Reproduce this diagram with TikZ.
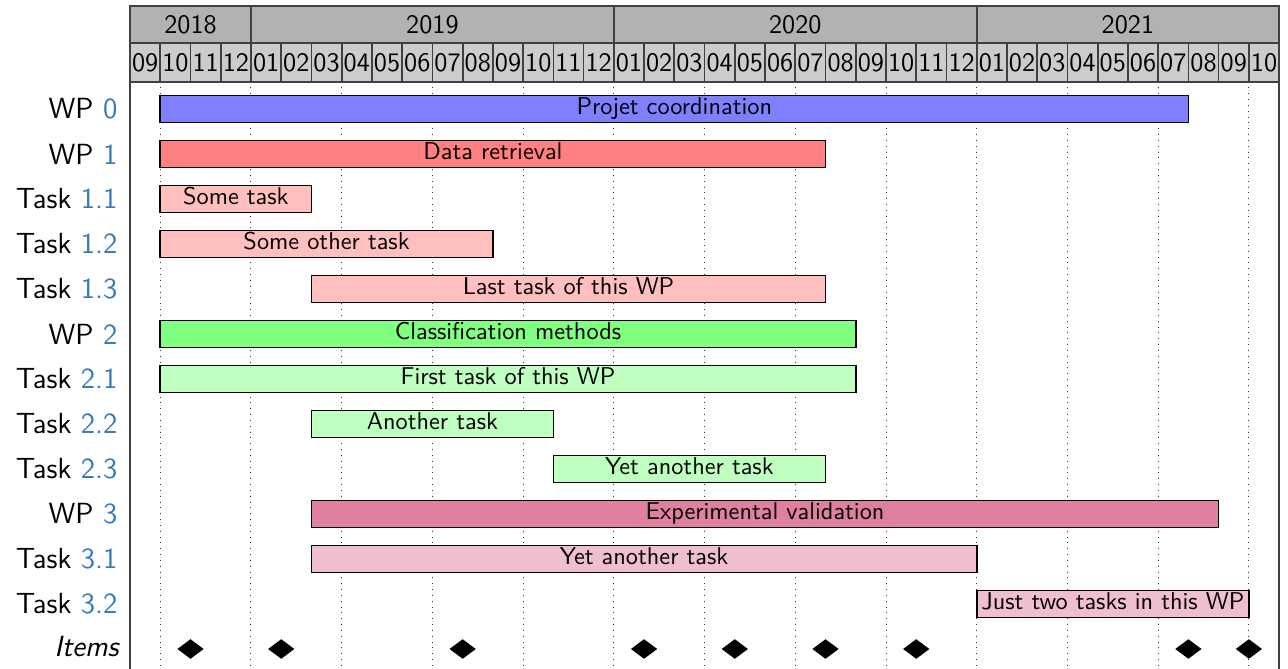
\documentclass[tikz,border=0pt]{standalone}
\usepackage{xcolor}
\usepackage{tikz}
\definecolor{wpnum}{RGB}{52,122,190}

\begin{document}
\begin{tikzpicture}[x=12.444pt,y=-18.519pt,font=\sffamily,
  cellline/.style={draw=black!75,line width=0.7pt},
  yearcell/.style={cellline,fill=black!30},
  monthcell/.style={cellline,fill=black!20},
  headtext/.style={inner sep=0pt,font=\sffamily\fontsize{11}{12}\selectfont},
  gridline/.style={black!80,dotted,line width=0.4pt},
  barbox/.style={draw=black,line width=0.7pt},
  bartext/.style={inner sep=0pt,text height=1.6ex,text depth=.5ex},
  rowlabel/.style={anchor=east,inner sep=0pt,font=\sffamily\large},
  milestone/.style={fill=black,draw=black,line width=0.5pt}]
  \useasboundingbox (-4.3,-2.422) rectangle (38.294,12.444);
  % Grid lines
  \foreach \x in {1,4,...,37}
    \draw[gridline] (\x,-0.607) -- (\x,12.444);
  % Header: years
  \foreach \yr/\a/\b in {2018/0/4,2019/4/16,2020/16/28,2021/28/38}
    \draw[yearcell] (\a,-2.289) rectangle (\b,-1.46) node[midway,headtext] (year\yr) {\yr};
  % Header: months
  \foreach \i in {0,...,37}{
    \pgfmathtruncatemacro\mnum{mod(\i+8,12)+1}
    \draw[monthcell] (\i,-1.46) rectangle (\i+1,-0.607) node[midway,headtext] (month\i) {\ifnum\mnum<10 0\fi\mnum};
  }
  % Side lines
  \draw[cellline] (0,-2.289) -- (0,12.444);
  \draw[cellline] (38,-2.289) -- (38,12.444);
  % Work packages and tasks
  \foreach \r/\kind/\num/\a/\b/\col/\txt in {
      0/WP/0/1/35/blue!50/Projet coordination,
      1/WP/1/1/23/red!50/Data retrieval,
      2/Task/1.1/1/6/red!25/Some task,
      3/Task/1.2/1/12/red!25/Some other task,
      4/Task/1.3/6/23/red!25/Last task of this WP,
      5/WP/2/1/24/green!50/Classification methods,
      6/Task/2.1/1/24/green!25/First task of this WP,
      7/Task/2.2/6/14/green!25/Another task,
      8/Task/2.3/14/23/green!25/Yet another task,
      9/WP/3/6/36/purple!50/Experimental validation,
      10/Task/3.1/6/28/purple!25/Yet another task,
      11/Task/3.2/28/37/purple!25/Just two tasks in this WP}{
    \draw[barbox,fill=\col] (\a,\r-0.3) rectangle (\b,\r+0.3) node[midway,bartext] (bar\r) {\txt};
    \node[rowlabel] (label\r) at (-0.4,\r) {\kind\ \textcolor{wpnum}{\num}};
  }
  % Milestones
  \foreach \x in {2,5,11,17,20,23,26,35,37}
    \filldraw[milestone] (\x-0.4,12) -- (\x,11.8) -- (\x+0.4,12) -- (\x,12.2) -- cycle;
  \node[rowlabel,font=\sffamily\large\itshape] (items) at (-0.36,11.94) {Items};
\end{tikzpicture}
\end{document}
